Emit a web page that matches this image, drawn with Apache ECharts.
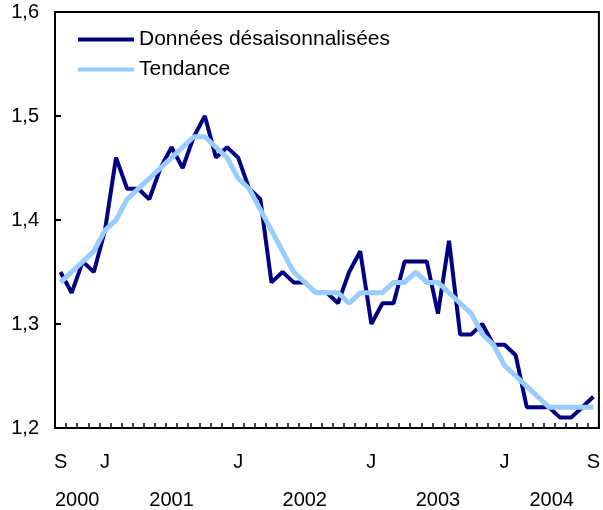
<!DOCTYPE html>
<html>
<head>
<meta charset="utf-8">
<script src="https://cdn.jsdelivr.net/npm/echarts@6/dist/echarts.min.js"></script>
<style>
  html, body { margin: 0; padding: 0; background: #fff; }
  #chart { width: 603px; height: 510px; }
</style>
</head>
<body>
<div id="chart"></div>
<script>
// mois de septembre 2000 à septembre 2004
const months = ['S','O','N','D',
  'J','F','M','A','M','J','J','A','S','O','N','D',
  'J','F','M','A','M','J','J','A','S','O','N','D',
  'J','F','M','A','M','J','J','A','S','O','N','D',
  'J','F','M','A','M','J','J','A','S']
const shownLabels = [0, 4, 16, 28, 40, 48]

const years = ['2000', '2001', '2002', '2003', '2004']
const yearPositions = [1.5, 10, 22, 34, 44.25]

const seasonal = [1.35, 1.33, 1.36, 1.35,
  1.39, 1.46, 1.43, 1.43, 1.42, 1.45, 1.47, 1.45, 1.48, 1.50, 1.46, 1.47,
  1.46, 1.43, 1.42, 1.34, 1.35, 1.34, 1.34, 1.33, 1.33, 1.32, 1.35, 1.37,
  1.30, 1.32, 1.32, 1.36, 1.36, 1.36, 1.31, 1.38, 1.29, 1.29, 1.30, 1.28,
  1.28, 1.27, 1.22, 1.22, 1.22, 1.21, 1.21, 1.22, 1.23]

const trend = [1.34, 1.35, 1.36, 1.37,
  1.39, 1.40, 1.42, 1.43, 1.44, 1.45, 1.46, 1.47, 1.48, 1.48, 1.47, 1.46,
  1.44, 1.43, 1.41, 1.39, 1.37, 1.35, 1.34, 1.33, 1.33, 1.33, 1.32, 1.33,
  1.33, 1.33, 1.34, 1.34, 1.35, 1.34, 1.34, 1.33, 1.32, 1.31, 1.29, 1.28,
  1.26, 1.25, 1.24, 1.23, 1.22, 1.22, 1.22, 1.22, 1.22]

const font = 'Liberation Sans, Arial, Helvetica, sans-serif'

const chart = echarts.init(document.getElementById('chart'))
chart.setOption({
  animation: false,
  textStyle: { fontFamily: font },
  grid: {
    left: 55,
    right: 2,
    top: 12,
    bottom: 82,
    show: true,
    borderColor: '#000',
    borderWidth: 2
  },
  legend: {
    orient: 'vertical',
    left: 73,
    top: 24,
    icon: 'rect',
    itemWidth: 56,
    itemHeight: 4,
    itemGap: 9,
    textStyle: { fontSize: 21, color: '#000', fontFamily: font },
    data: ['Données désaisonnalisées', 'Tendance']
  },
  xAxis: [{
    type: 'category',
    data: months,
    boundaryGap: true,
    axisLine: { onZero: false, lineStyle: { color: '#000', width: 2 } },
    axisTick: { show: true, inside: true, length: 5, interval: 0, lineStyle: { color: '#000', width: 1.5 } },
    axisLabel: {
      interval: (idx) => shownLabels.includes(idx),
      margin: 24,
      fontSize: 20,
      color: '#000',
      fontFamily: font
    },
    splitLine: { show: false }
  }, {
    type: 'value',
    position: 'bottom',
    min: -0.5,
    max: 48.5,
    axisLine: { show: false, onZero: false },
    axisTick: { show: false },
    splitLine: { show: false },
    axisLabel: {
      customValues: yearPositions,
      formatter: (v) => years[yearPositions.indexOf(v)] || '',
      margin: 62,
      fontSize: 20,
      color: '#000',
      fontFamily: font
    }
  }],
  yAxis: {
    type: 'value',
    min: 1.2,
    max: 1.6,
    interval: 0.1,
    axisLine: { show: true, onZero: false, lineStyle: { color: '#000', width: 2 } },
    axisTick: { show: true, inside: true, length: 6, lineStyle: { color: '#000', width: 2 } },
    axisLabel: {
      formatter: (v) => v.toFixed(1).replace('.', ','),
      margin: 16,
      fontSize: 20,
      color: '#000',
      fontFamily: font
    },
    splitLine: { show: false }
  },
  series: [{
    name: 'Données désaisonnalisées',
    type: 'line',
    data: seasonal,
    symbol: 'none',
    color: '#000080',
    lineStyle: { color: '#000080', width: 4 }
  }, {
    name: 'Tendance',
    type: 'line',
    data: trend,
    symbol: 'none',
    color: '#99ccff',
    lineStyle: { color: '#99ccff', width: 5 }
  }]
})
</script>
</body>
</html>
